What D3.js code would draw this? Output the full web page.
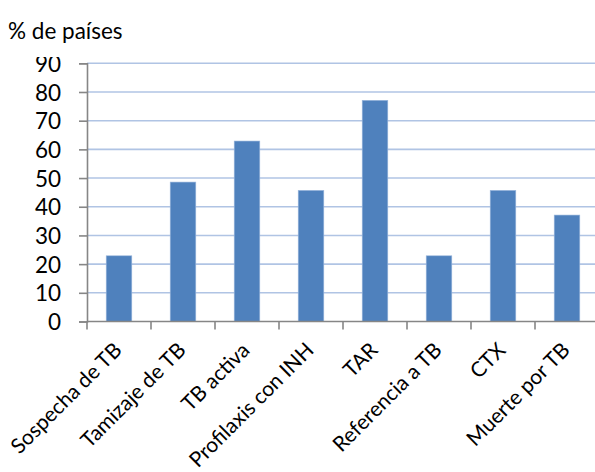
<!DOCTYPE html>
<html>
<head>
<meta charset="utf-8">
<script src="https://cdn.jsdelivr.net/npm/d3@7/dist/d3.min.js"></script>
<style>
  html, body { margin: 0; padding: 0; background: #fff; }
  svg { display: block; }
  text { font-family: "Lato", "Open Sans", sans-serif; fill: #000; }
</style>
</head>
<body>
<svg id="chart" width="595" height="472"></svg>
<script>
// Intervenciones TB/VIH: porcentaje de países que las reportan
const categories = [
  "Sospecha de TB", "Tamizaje de TB", "TB activa", "Profilaxis con INH",
  "TAR", "Referencia a TB", "CTX", "Muerte por TB"
];
const values = [22.9, 48.6, 62.9, 45.7, 77.1, 22.9, 45.7, 37.1];
const yTicks = [0, 10, 20, 30, 40, 50, 60, 70, 80, 90];
const yTitle = "% de países";

const svg = d3.select("#chart");
const W = 595, H = 472;
const left = 87;
const plotBottom = 321.5;
const fontSize = "22.5px";
const catFontSize = "21px";

const x = d3.scaleBand()
  .domain(categories)
  .range([left, 599])
  .paddingInner(0.6)
  .paddingOuter(0.3);

const y = d3.scaleLinear().domain([0, 90]).range([plotBottom, 63.3]);

// clip so the top tick label is cut at the frame edge
svg.append("defs").append("clipPath").attr("id", "frame")
  .append("rect").attr("x", 0).attr("y", 57).attr("width", W).attr("height", H - 57);

const g = svg.append("g").attr("clip-path", "url(#frame)");

// horizontal gridlines
g.append("g")
  .selectAll("line")
  .data(yTicks.filter(d => d > 0))
  .join("line")
  .attr("x1", left).attr("x2", W)
  .attr("y1", d => y(d)).attr("y2", d => y(d))
  .attr("stroke", "#b0c4e4")
  .attr("stroke-width", 1.6);

// bars
g.append("g")
  .selectAll("rect")
  .data(values)
  .join("rect")
  .attr("x", (d, i) => x(categories[i]))
  .attr("width", x.bandwidth())
  .attr("y", d => y(d))
  .attr("height", d => plotBottom - y(d))
  .attr("fill", "#4f81bd")
  .attr("stroke", "#9bb7dc")
  .attr("stroke-width", 0.6);

// y axis
const yAxis = d3.axisLeft(y).tickValues(yTicks).tickSize(8).tickPadding(18);
const ya = g.append("g").attr("transform", `translate(${left},0)`).call(yAxis);
ya.select(".domain").attr("stroke", "#868686").attr("stroke-width", 1.6);
ya.selectAll(".tick line").attr("stroke", "#868686").attr("stroke-width", 1.6);
ya.selectAll(".tick text")
  .style("font-family", "Lato, 'Open Sans', sans-serif")
  .style("font-size", fontSize)
  .attr("fill", "#000")
  .attr("dy", "0.36em");

// x axis: boundary ticks between categories
const step = x.step();
const bounds = d3.range(categories.length + 1).map(i => left + i * step);
const xa = svg.append("g");
xa.append("line")
  .attr("x1", left).attr("x2", W)
  .attr("y1", plotBottom).attr("y2", plotBottom)
  .attr("stroke", "#868686").attr("stroke-width", 1.6);
xa.selectAll("line.tk")
  .data(bounds)
  .join("line")
  .attr("class", "tk")
  .attr("x1", d => d).attr("x2", d => d)
  .attr("y1", plotBottom).attr("y2", plotBottom + 8)
  .attr("stroke", "#868686").attr("stroke-width", 1.6);

// rotated category labels, anchored at the end of the baseline
xa.selectAll("text")
  .data(categories)
  .join("text")
  .attr("transform", d => `translate(${x(d) + x.bandwidth() / 2 + 4},${plotBottom + 30}) rotate(-45)`)
  .attr("text-anchor", "end")
  .style("font-size", catFontSize)
  .text(d => d);

// axis title
svg.append("text")
  .attr("x", 8)
  .attr("y", 39)
  .style("font-size", fontSize)
  .text(yTitle);
</script>
</body>
</html>
